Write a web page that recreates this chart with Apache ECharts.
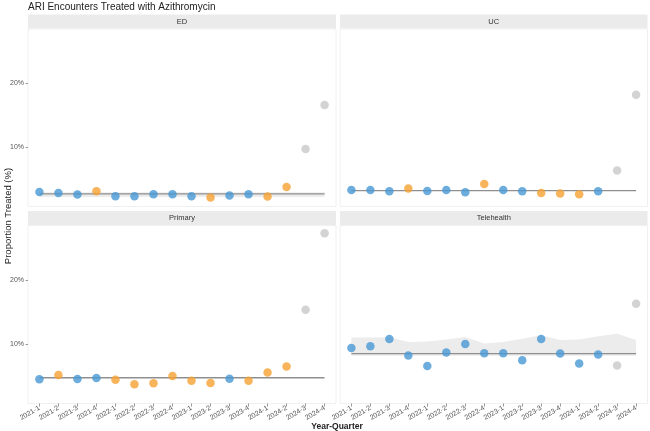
<!DOCTYPE html>
<html>
<head>
<meta charset="UTF-8">
<title>ARI Encounters Treated with Azithromycin</title>
<style>
  * { margin: 0; padding: 0; box-sizing: border-box; }
  body { width: 650px; height: 431px; background: #fff; overflow: hidden; }
  #chart { width: 650px; height: 431px; }
</style>
<script src="https://cdn.jsdelivr.net/npm/echarts@6.0.0/dist/echarts.min.js"></script>
</head>
<body>
<div id="chart"></div>
<script>
// 季度标签
const quarters = ['2021-1', '2021-2', '2021-3', '2021-4', '2022-1', '2022-2', '2022-3', '2022-4',
  '2023-1', '2023-2', '2023-3', '2023-4', '2024-1', '2024-2', '2024-3', '2024-4']

// b = 正常, o = 信号, g = 不完整
const edValues = [2.98, 2.83, 2.57, 3.09, 2.31, 2.31, 2.62, 2.62, 2.31, 2.10, 2.41, 2.62, 2.26, 3.77, 9.69, 16.6]
const edTypes = ['b', 'b', 'b', 'o', 'b', 'b', 'b', 'b', 'b', 'o', 'b', 'b', 'o', 'o', 'g', 'g']
const edCenter = 2.67
const edUpper = [2.95, 2.95, 2.95, 2.95, 2.95, 2.95, 2.95, 2.95, 2.95, 2.95, 2.95, 2.95, 2.95, 2.95, 2.95, 2.95]
const edLower = [2.2, 2.2, 2.2, 2.2, 2.2, 2.2, 2.2, 2.2, 2.2, 2.2, 2.2, 2.2, 2.2, 2.2, 2.2, 2.2]

const ucValues = [3.30, 3.30, 3.09, 3.52, 3.14, 3.30, 2.94, 4.24, 3.30, 3.09, 2.83, 2.73, 2.62, 3.09, 6.34, 18.2]
const ucTypes = ['b', 'b', 'b', 'o', 'b', 'b', 'b', 'o', 'b', 'b', 'o', 'o', 'o', 'b', 'g', 'g']
const ucCenter = 3.20

const primaryValues = [4.47, 5.14, 4.52, 4.67, 4.41, 3.69, 3.85, 4.98, 4.26, 3.90, 4.57, 4.26, 5.55, 6.48, 15.34, 27.3]
const primaryTypes = ['b', 'o', 'b', 'b', 'o', 'o', 'o', 'o', 'o', 'o', 'b', 'o', 'o', 'o', 'g', 'g']
const primaryCenter = 4.72

const teleValues = [9.38, 9.64, 10.78, 8.20, 6.54, 8.66, 10.0, 8.56, 8.56, 7.47, 10.78, 8.5, 6.95, 8.35, 6.64, 16.27]
const teleTypes = ['b', 'b', 'b', 'b', 'b', 'b', 'b', 'b', 'b', 'b', 'b', 'b', 'b', 'b', 'g', 'g']
const teleCenter = 8.50
const teleUpper = [11.0, 11.0, 11.05, 10.3, 10.4, 10.7, 11.1, 10.06, 10.3, 10.8, 11.35, 10.6, 10.7, 11.2, 11.6, 10.6]
const teleLower = [8.15, 8.15, 8.15, 8.15, 8.15, 8.15, 8.15, 8.15, 8.15, 8.15, 8.15, 8.15, 8.15, 8.15, 8.15, 8.15]

const yTicks = [10, 20]

const colors = { b: '#4898d5', o: '#f6a132', g: '#c8c8c8' }
const font = 'Liberation Sans, Arial, sans-serif'

const facets = [
  { name: 'ED', values: edValues, types: edTypes, center: edCenter, upper: edUpper, lower: edLower },
  { name: 'UC', values: ucValues, types: ucTypes, center: ucCenter },
  { name: 'Primary', values: primaryValues, types: primaryTypes, center: primaryCenter },
  { name: 'Telehealth', values: teleValues, types: teleTypes, center: teleCenter, upper: teleUpper, lower: teleLower }
]

// 面板布局
const cols = [{ left: 28, width: 308 }, { left: 340, width: 307.5 }]
const rows = [{ top: 29, height: 177.5 }, { top: 225.5, height: 178 }]
const stripH = 14

const chart = echarts.init(document.getElementById('chart'), null, { renderer: 'canvas' })

const grids = []
const xAxes = []
const yAxes = []
const series = []
const graphics = []
const idx = quarters.map((q, i) => i)

facets.forEach((f, k) => {
  const c = cols[k % 2]
  const r = rows[Math.floor(k / 2)]
  const bottom = k >= 2
  const leftCol = k % 2 === 0

  grids.push({
    left: c.left, top: r.top, width: c.width, height: r.height,
    show: true, backgroundColor: '#fff', borderColor: '#f0f0f0', borderWidth: 1
  })

  xAxes.push({
    type: 'value', gridIndex: k, min: -0.6, max: 15.6,
    axisLine: { show: false, onZero: false },
    splitLine: { show: false },
    axisTick: { show: bottom, customValues: idx, length: 3, lineStyle: { color: '#999' } },
    axisLabel: {
      show: bottom, customValues: idx, rotate: 30, fontSize: 7, color: '#555', fontFamily: font, margin: 4,
      formatter: v => quarters[Math.round(v)]
    }
  })

  yAxes.push({
    type: 'value', gridIndex: k, min: 0.7, max: 28.5,
    axisLine: { show: false, onZero: false },
    splitLine: { show: false },
    axisTick: { show: leftCol, customValues: yTicks, length: 2.5, lineStyle: { color: '#999' } },
    axisLabel: {
      show: leftCol, customValues: yTicks, fontSize: 7, color: '#555', fontFamily: font, margin: 4,
      formatter: v => v + '%'
    }
  })

  // 控制带
  if (f.upper) {
    series.push({
      type: 'custom', xAxisIndex: k, yAxisIndex: k, z: 1, silent: true,
      data: idx.map(i => [i, f.upper[i]]),
      renderItem: (params, api) => {
        if (params.dataIndex !== 0) return
        const pts = []
        idx.forEach(i => pts.push(api.coord([i, f.upper[i]])))
        for (let i = idx.length - 1; i >= 0; i--) pts.push(api.coord([i, f.lower[i]]))
        return { type: 'polygon', shape: { points: pts }, style: { fill: '#ececec' } }
      }
    })
  }

  // 中心线
  series.push({
    type: 'line', xAxisIndex: k, yAxisIndex: k, z: 2, silent: true,
    data: idx.map(i => [i, f.center]),
    symbol: 'none',
    lineStyle: { color: '#8f8f8f', width: 1.3 }
  })

  series.push({
    type: 'scatter', xAxisIndex: k, yAxisIndex: k, z: 3,
    symbolSize: 8.5,
    data: f.values.map((v, i) => ({ value: [i, v], itemStyle: { color: colors[f.types[i]] } }))
  })

  // 分面标题条
  graphics.push({
    type: 'rect', left: c.left, top: r.top - stripH - 0.5,
    shape: { width: c.width, height: stripH },
    style: { fill: '#ebebeb' }
  })
  graphics.push({
    type: 'text', x: c.left + c.width / 2, y: r.top - stripH / 2 - 0.5,
    style: { text: f.name, fontSize: 7.5, fill: '#333', fontFamily: font, textAlign: 'center', textVerticalAlign: 'middle' }
  })
})

graphics.push({
  type: 'text', x: 28, y: 7,
  style: { text: 'ARI Encounters Treated with Azithromycin', fontSize: 10, fill: '#222', fontFamily: font, textVerticalAlign: 'middle' }
})
graphics.push({
  type: 'text', x: 8, y: 216, rotation: Math.PI / 2,
  style: { text: 'Proportion Treated (%)', fontSize: 9.5, fill: '#222', fontFamily: font, textAlign: 'center', textVerticalAlign: 'middle' }
})
graphics.push({
  type: 'text', x: 337, y: 427,
  style: { text: 'Year-Quarter', fontSize: 8.5, fontWeight: 'bold', fill: '#222', fontFamily: font, textAlign: 'center', textVerticalAlign: 'middle' }
})

chart.setOption({
  animation: false,
  backgroundColor: '#fff',
  grid: grids,
  xAxis: xAxes,
  yAxis: yAxes,
  series: series,
  graphic: graphics
})
</script>
</body>
</html>
